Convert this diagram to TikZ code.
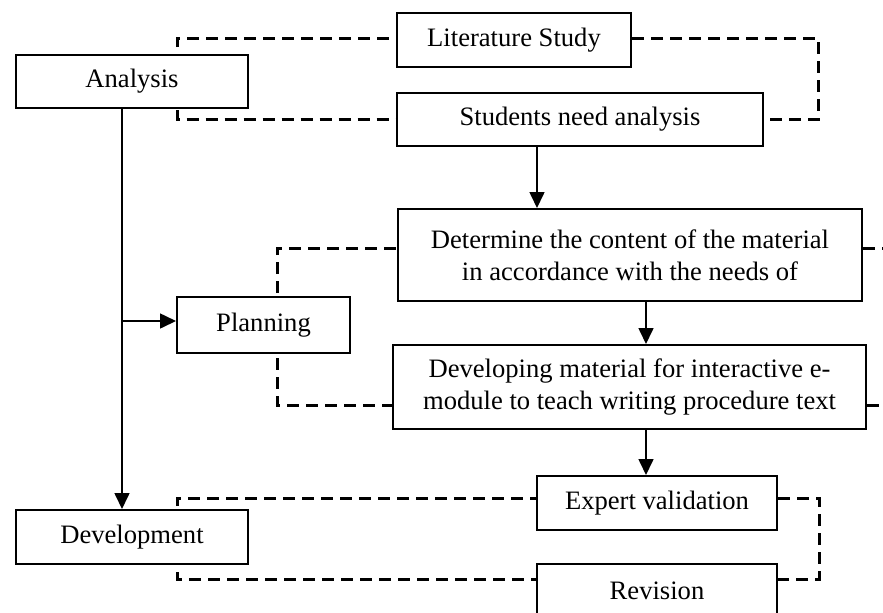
\documentclass[tikz,border=0pt]{standalone}
\usepackage{fontspec}
\setmainfont{Liberation Serif}
\usetikzlibrary{arrows.meta,positioning}
\tikzstyle{stage}=[draw=black, line width=1pt, inner sep=0pt, align=center,
                   font=\fontsize{13.3}{16}\selectfont]
\tikzstyle{dline}=[line width=1.5pt, dash pattern=on 6pt off 3.5pt]
\tikzstyle{flow}=[line width=0.8pt, -{Triangle[length=8pt,width=7.5pt]}]

\begin{document}
\begin{tikzpicture}[x=0.5pt,y=-0.5pt]
\useasboundingbox (0,0) rectangle (883,612);
\clip (0,0) rectangle (883,612);
% phases
\node[stage, minimum width=116pt, minimum height=26.5pt] (ana) at (132,81.5) {Analysis};
\node[stage, minimum width=86.5pt, minimum height=28pt] (plan) at (263.5,325) {Planning};
\node[stage, minimum width=116pt, minimum height=27pt] (devm) at (132,537) {Development};
% steps
\node[stage, minimum width=117pt, minimum height=27pt] (lit) at (514,40) {Literature Study};
\node[stage, minimum width=183pt, minimum height=26.5pt] (sna) at (580,119.5) {Students need analysis};
\node[stage, minimum width=232pt, minimum height=46pt] (det) at (630,255)
  {Determine the content of the material\\in accordance with the needs of};
\node[stage, minimum width=236.5pt, minimum height=42pt] (dev) at (629.5,387)
  {Developing material for interactive e-\\module to teach writing procedure text};
\node[stage, minimum width=120pt, minimum height=27pt] (exp) at (657,503) {Expert validation};
\node[stage, minimum width=120pt, minimum height=27pt] (rev) at (657,591) {Revision};
% free ends of the brackets
\coordinate (a1) at (177,47);
\coordinate (a2) at (177,110);
\coordinate (r1) at (818,80);
\coordinate (p1) at (277,293);
\coordinate (p2) at (277,358);
\coordinate (d1) at (177,506);
\coordinate (d2) at (177,572);
\coordinate (r2) at (819,540);
\coordinate (br) at (122,321);
\draw[dline] (a1) |- ([yshift=1pt]lit.west);
\draw[dline] (a2) |- (sna.west);
\draw[dline] ([yshift=1pt]lit.east) -| (r1) |- (sna.east);
\draw[dline] (p1) |- ([yshift=3.5pt]det.west);
\draw[dline] ([yshift=3.5pt]det.east) -- ++(20,0);
\draw[dline] (p2) |- ([yshift=-9pt]dev.west);
\draw[dline] ([yshift=-9pt]dev.east) -- ++(30,0);
\draw[dline] (d1) |- ([yshift=2.5pt]exp.west);
\draw[dline] (d2) |- ([yshift=6pt]rev.west);
\draw[dline] ([yshift=2.5pt]exp.east) -| (r2) |- ([yshift=6pt]rev.east);
% flow
\draw[flow] ([xshift=-5pt]ana.south) -- ([xshift=-5pt]devm.north);
\draw[flow] (br) -- (plan.west |- br);
\draw[flow] (sna.south -| 537,0) -- (det.north -| 537,0);
\draw[flow] (det.south -| 646,0) -- (dev.north -| 646,0);
\draw[flow] (dev.south -| 646,0) -- (exp.north -| 646,0);
\end{tikzpicture}
\end{document}
